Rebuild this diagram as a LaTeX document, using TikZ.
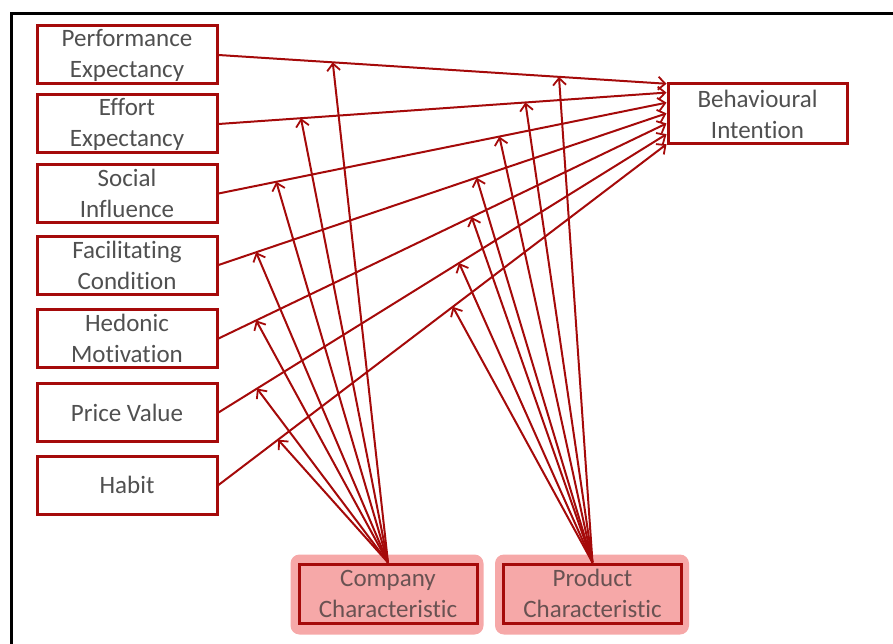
\documentclass[tikz,border=0pt]{standalone}
\usepackage{fontspec}
\setmainfont{Carlito}[Ligatures=NoCommon]
\usetikzlibrary{arrows.meta,calc,backgrounds}
\definecolor{boxred}{RGB}{165,10,10}
\definecolor{glowpink}{RGB}{246,168,168}
\definecolor{textgray}{RGB}{80,80,80}
\definecolor{chartext}{RGB}{105,82,82}
\tikzset{>={Straight Barb[length=7pt,width=13pt,line width=1.8pt]}}
\tikzset{
  factor/.style={draw=boxred, line width=3pt, fill=white, minimum width=180pt,
    minimum height=58pt, inner sep=0pt, align=center, text=textgray,
    font=\fontsize{25}{31}\selectfont},
  charbox/.style={factor, fill=glowpink, minimum width=178pt, minimum height=59pt,
    text=chartext},
  link/.style={->, draw=boxred, line width=2pt},
}

\begin{document}
\begin{tikzpicture}[x=1pt,y=-1pt]
    \useasboundingbox (0,0) rectangle (893,644);
    \draw[line width=3pt] (11.5,660) -- (11.5,13.5) -- (900,13.5);
    % factors on the left
    \node[factor] (PE) at (127,55) {Performance\\Expectancy};
    \node[factor] (EE) at (127,124) {Effort\\Expectancy};
    \node[factor] (SI) at (127,193.5) {Social\\Influence};
    \node[factor] (FC) at (127,265) {Facilitating\\Condition};
    \node[factor] (HM) at (127,338.5) {Hedonic\\Motivation};
    \node[factor] (PV) at (127,412.5) {Price Value};
    \node[factor] (HT) at (127,485) {Habit};
    \node[factor, minimum width=179pt, minimum height=60pt] (BI) at (757.5,114) {Behavioural\\Intention};
    % moderators
    \node[charbox] (CC) at (388,593.5) {Company\\Characteristic};
    \node[charbox] (PC) at (592.5,593.5) {Product\\Characteristic};
    \begin{pgfonlayer}{background}
        \fill[glowpink, rounded corners=9pt] ($(CC.south west)+(-7,10)$) rectangle ($(CC.north east)+(5,-8)$);
        \fill[glowpink, rounded corners=9pt] ($(PC.south west)+(-7,10)$) rectangle ($(PC.north east)+(6,-8)$);
    \end{pgfonlayer}
    % direct effects
    \draw[link] (PE.east) -- coordinate[pos=0.255] (c1) coordinate[pos=0.76] (p1) ($(BI.north west)!0.02!(BI.south west)$);
    \draw[link] (EE.east) -- coordinate[pos=0.184] (c2) coordinate[pos=0.685] (p2) ($(BI.north west)!0.16!(BI.south west)$);
    \draw[link] (SI.east) -- coordinate[pos=0.129] (c3) coordinate[pos=0.627] (p3) ($(BI.north west)!0.32!(BI.south west)$);
    \draw[link] (FC.east) -- coordinate[pos=0.084] (c4) coordinate[pos=0.576] (p4) ($(BI.north west)!0.49!(BI.south west)$);
    \draw[link] (HM.east) -- coordinate[pos=0.084] (c5) coordinate[pos=0.565] (p5) ($(BI.north west)!0.65!(BI.south west)$);
    \draw[link] (PV.east) -- coordinate[pos=0.086] (c6) coordinate[pos=0.537] (p6) ($(BI.north west)!0.82!(BI.south west)$);
    \draw[link] (HT.east) -- coordinate[pos=0.133] (c7) coordinate[pos=0.523] (p7) ($(BI.north west)!0.98!(BI.south west)$);
    % moderating effects
    \draw[link] (CC.north) -- (c1);
    \draw[link] (CC.north) -- (c2);
    \draw[link] (CC.north) -- (c3);
    \draw[link] (CC.north) -- (c4);
    \draw[link] (CC.north) -- (c5);
    \draw[link] (CC.north) -- (c6);
    \draw[link] (CC.north) -- (c7);
    \draw[link] (PC.north) -- (p1);
    \draw[link] (PC.north) -- (p2);
    \draw[link] (PC.north) -- (p3);
    \draw[link] (PC.north) -- (p4);
    \draw[link] (PC.north) -- (p5);
    \draw[link] (PC.north) -- (p6);
    \draw[link] (PC.north) -- (p7);
\end{tikzpicture}
\end{document}
